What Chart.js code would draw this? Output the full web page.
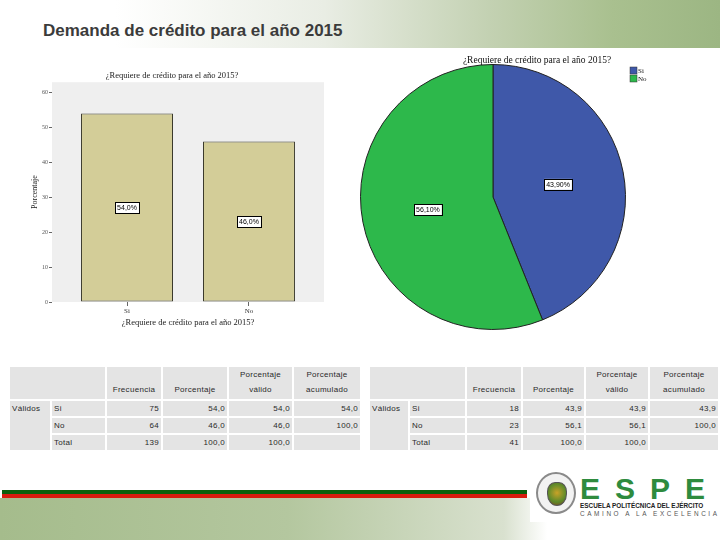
<!DOCTYPE html>
<html>
<head>
<meta charset="utf-8">
<script src="https://cdn.jsdelivr.net/npm/chart.js@4/dist/chart.umd.min.js"></script>
<style>
  body { margin: 0; background: #fff; }
  #slide { position: relative; width: 720px; height: 540px; overflow: hidden; background: #fff; }
  #cabecera {
    position: absolute; left: 0; top: 0; width: 720px; height: 48px;
    background: linear-gradient(to right, #ffffff 0%, #ffffff 16%, #e9ede4 45%, #c3d1b2 68%, #a9c08f 85%, #9cb683 100%);
  }
  #cabecera h1 {
    position: absolute; left: 43px; top: 21px; margin: 0;
    font: bold 17px "Liberation Sans", Arial, sans-serif; color: #3b3b3b;
  }
  .grafico { position: absolute; }
  table.spss {
    position: absolute; border-collapse: separate; border-spacing: 2px;
    font: 8px "Liberation Sans", Arial, sans-serif; color: #2a2a2a; letter-spacing: 0.3px;
  }
  table.spss td { background: #e4e4e4; padding: 0 2px; height: 15px; white-space: nowrap; }
  table.spss tr.enc td { height: 30px; text-align: center; vertical-align: bottom; padding-bottom: 2px; line-height: 15px; }
  table.spss td.num { text-align: right; }
  table.spss td.grupo { vertical-align: top; padding-top: 3px; }
  #franja {
    position: absolute; left: 2px; top: 490px; width: 525px; height: 8px;
    background: linear-gradient(to bottom, #0c5f0c 0%, #0c5f0c 50%, #d81b0e 50%, #d81b0e 100%);
  }
  #pie-slide {
    position: absolute; left: 0; top: 498px; width: 720px; height: 42px;
    background: linear-gradient(to right, #a5bc8c 0%, #b4c79f 40%, #d9e1cf 70%, #ffffff 76%, #ffffff 100%);
  }
  #logo { position: absolute; left: 530px; top: 468px; width: 190px; height: 54px; background: #fff; }
  #sello {
    position: absolute; left: 6px; top: 4px; width: 36px; height: 38px; border-radius: 50%;
    background: #f2f2f2; border: 2px solid #8a8a8a;
  }
  #sello div {
    position: absolute; left: 9px; top: 8px; width: 18px; height: 22px; border-radius: 40% 40% 50% 50%;
    background: radial-gradient(circle at 50% 45%, #c9a227 0%, #5c8a2a 60%, #8a3a1c 100%); border: 1px solid #555;
  }
  #siglas {
    position: absolute; left: 50px; top: 4px; width: 130px;
    font: bold 30px "Liberation Sans", Arial, sans-serif; color: #2e8b3e; letter-spacing: 15px;
  }
  #nombre { position: absolute; left: 50px; top: 34px; font: bold 6.4px "Liberation Sans", Arial, sans-serif; color: #222; }
  #lema { position: absolute; left: 50px; top: 42px; font: 6.4px "Liberation Sans", Arial, sans-serif; color: #555; letter-spacing: 2.6px; }
</style>
</head>
<body>
<div id="slide">
  <div id="cabecera"><h1>Demanda de crédito para el año 2015</h1></div>

  <div class="grafico" style="left:20px; top:60px; width:320px; height:270px;">
    <canvas id="barras" width="320" height="270"></canvas>
  </div>
  <div class="grafico" style="left:340px; top:50px; width:380px; height:290px;">
    <canvas id="pastel" width="380" height="290"></canvas>
  </div>

  <table class="spss" id="tabla1" style="left:8px; top:365px;"></table>
  <table class="spss" id="tabla2" style="left:368px; top:365px;"></table>

  <div id="pie-slide"></div>
  <div id="franja"></div>
  <div id="logo">
    <div id="sello"><div></div></div>
    <div id="siglas">ESPE</div>
    <div id="nombre">ESCUELA POLITÉCNICA DEL EJÉRCITO</div>
    <div id="lema">CAMINO A LA EXCELENCIA</div>
  </div>
</div>

<script>
// datos
const pregunta = "¿Requiere de crédito para el año 2015?";
const categorias = ["Si", "No"];
const porcentajeBarras = [54.0, 46.0];
const porcentajePastel = [43.90, 56.10];
const ticksY = [0, 10, 20, 30, 40, 50, 60];

// tablas de frecuencia
const encabezados = ["Frecuencia", "Porcentaje", "Porcentaje\nválido", "Porcentaje\nacumulado"];
const filas = ["Si", "No", "Total"];
const frecuencia1 = ["75", "64", "139"];
const porcentaje1 = ["54,0", "46,0", "100,0"];
const valido1 = ["54,0", "46,0", "100,0"];
const acumulado1 = ["54,0", "100,0", ""];
const frecuencia2 = ["18", "23", "41"];
const porcentaje2 = ["43,9", "56,1", "100,0"];
const valido2 = ["43,9", "56,1", "100,0"];
const acumulado2 = ["43,9", "100,0", ""];

const anchos1 = [36, 49, 50, 60, 59, 62];
const anchos2 = [34, 51, 50, 57, 58, 64];

function armaTabla(id, anchos, columnas) {
    const t = document.getElementById(id);
    let html = '<tr class="enc"><td colspan="2" style="width:' + (anchos[0] + anchos[1] + 6) + 'px"></td>';
    encabezados.forEach((e, i) => {
        html += '<td style="width:' + anchos[i + 2] + 'px">' + e.replace("\n", "<br>") + '</td>';
    });
    html += '</tr>';
    filas.forEach((f, r) => {
        html += '<tr>';
        if (r === 0) html += '<td class="grupo" rowspan="3" style="width:' + anchos[0] + 'px">Válidos</td>';
        html += '<td style="width:' + anchos[1] + 'px">' + f + '</td>';
        columnas.forEach(c => { html += '<td class="num">' + c[r] + '</td>'; });
        html += '</tr>';
    });
    t.innerHTML = html;
}
armaTabla("tabla1", anchos1, [frecuencia1, porcentaje1, valido1, acumulado1]);
armaTabla("tabla2", anchos2, [frecuencia2, porcentaje2, valido2, acumulado2]);

const fmt = v => v.toFixed(1).replace(".", ",") + "%";
const fmt2 = v => v.toFixed(2).replace(".", ",") + "%";

function etiqueta(ctx, texto, x, y, size) {
    ctx.save();
    ctx.font = size + "px 'Liberation Sans', Arial";
    const w = ctx.measureText(texto).width + 4;
    const h = size + 4;
    ctx.fillStyle = "#fff";
    ctx.fillRect(x - w / 2, y - h / 2, w, h);
    ctx.strokeStyle = "#000";
    ctx.lineWidth = 1;
    ctx.strokeRect(Math.round(x - w / 2) + 0.5, Math.round(y - h / 2) + 0.5, Math.round(w), Math.round(h));
    ctx.fillStyle = "#000";
    ctx.textAlign = "center";
    ctx.textBaseline = "middle";
    ctx.fillText(texto, x, y + 0.5);
    ctx.restore();
}

const fondoArea = {
    id: "fondoArea",
    beforeDraw(chart) {
        const a = chart.chartArea, ctx = chart.ctx;
        ctx.save();
        ctx.fillStyle = "#efefef";
        ctx.fillRect(a.left, a.top, a.right - a.left, a.bottom - a.top);
        ctx.restore();
    }
};

const etiquetasBarras = {
    id: "etiquetasBarras",
    afterDatasetsDraw(chart) {
        const meta = chart.getDatasetMeta(0);
        meta.data.forEach((bar, i) => {
            etiqueta(chart.ctx, fmt(porcentajeBarras[i]), bar.x, (bar.y + bar.base) / 2, 7);
        });
    }
};

new Chart(document.getElementById("barras"), {
    type: "bar",
    data: {
        datasets: [{
            data: porcentajeBarras.map((v, i) => ({ x: i, y: v })),
            backgroundColor: "#d3cd98",
            borderColor: "#3b3a2c",
            borderWidth: 1,
            borderSkipped: false,
            categoryPercentage: 1,
            barPercentage: 0.754
        }]
    },
    options: {
        responsive: false,
        animation: false,
        layout: { padding: { left: 0, right: 16, top: 0, bottom: 0 } },
        plugins: {
            legend: { display: false },
            tooltip: { enabled: false },
            title: {
                display: true,
                text: pregunta,
                color: "#222",
                font: { family: "'Liberation Serif', serif", size: 8.5, weight: "normal" },
                padding: { top: 11, bottom: 1 }
            }
        },
        scales: {
            x: {
                type: "linear",
                offset: false,
                bounds: "data",
                min: -0.615,
                max: categorias.length - 1 + 0.615,
                grid: { drawOnChartArea: false, offset: false, tickLength: 4, color: "#666" },
                border: { display: false },
                afterBuildTicks(s) { s.ticks = categorias.map((c, i) => ({ value: i })); },
                ticks: {
                    color: "#333",
                    font: { family: "'Liberation Serif', serif", size: 7 },
                    padding: 1,
                    callback: v => categorias[v]
                },
                title: {
                    display: true, text: pregunta, color: "#222",
                    font: { family: "'Liberation Serif', serif", size: 8.5 },
                    padding: { top: 2, bottom: 2 }
                },
                afterFit(s) { s.height = 28; }
            },
            y: {
                min: 0,
                max: 63,
                grid: { drawOnChartArea: false, tickLength: 3, color: "#666" },
                border: { display: false },
                afterBuildTicks(s) { s.ticks = ticksY.map(v => ({ value: v })); },
                ticks: { color: "#555", font: { family: "'Liberation Serif', serif", size: 6 }, padding: 1 },
                title: {
                    display: true, text: "Porcentaje", color: "#222",
                    font: { family: "'Liberation Serif', serif", size: 8 },
                    padding: { top: 10, bottom: 2 }
                },
                afterFit(s) { s.width = 32; }
            }
        }
    },
    plugins: [fondoArea, etiquetasBarras]
});

const coloresPastel = ["#3f58a9", "#2db84b"];

const decoracionPastel = {
    id: "decoracionPastel",
    afterDraw(chart) {
        const ctx = chart.ctx, a = chart.chartArea;
        chart.getDatasetMeta(0).data.forEach((arc, i) => {
            const p = arc.tooltipPosition();
            etiqueta(ctx, fmt2(porcentajePastel[i]), p.x, p.y, 7);
        });
        ctx.save();
        ctx.fillStyle = "#111";
        ctx.font = "9.5px 'Liberation Serif', serif";
        ctx.textAlign = "center";
        ctx.textBaseline = "middle";
        ctx.fillText(pregunta, a.left + a.width / 2 + 44, 10);
        // leyenda
        ctx.font = "7px 'Liberation Serif', serif";
        ctx.textAlign = "left";
        categorias.forEach((c, i) => {
            const y = 17 + i * 8;
            ctx.fillStyle = coloresPastel[i];
            ctx.fillRect(a.right + 4, y, 7, 7);
            ctx.strokeStyle = "#333";
            ctx.lineWidth = 0.5;
            ctx.strokeRect(a.right + 4, y, 7, 7);
            ctx.fillStyle = "#111";
            ctx.fillText(c, a.right + 12, y + 4);
        });
        ctx.restore();
    }
};

new Chart(document.getElementById("pastel"), {
    type: "pie",
    data: {
        labels: categorias,
        datasets: [{
            data: porcentajePastel,
            backgroundColor: coloresPastel,
            borderColor: "#222",
            borderWidth: 1
        }]
    },
    options: {
        responsive: false,
        animation: false,
        layout: { padding: { left: 20, right: 94, top: 14, bottom: 10 } },
        plugins: {
            legend: { display: false },
            tooltip: { enabled: false },
            title: { display: false }
        }
    },
    plugins: [decoracionPastel]
});
</script>
</body>
</html>
